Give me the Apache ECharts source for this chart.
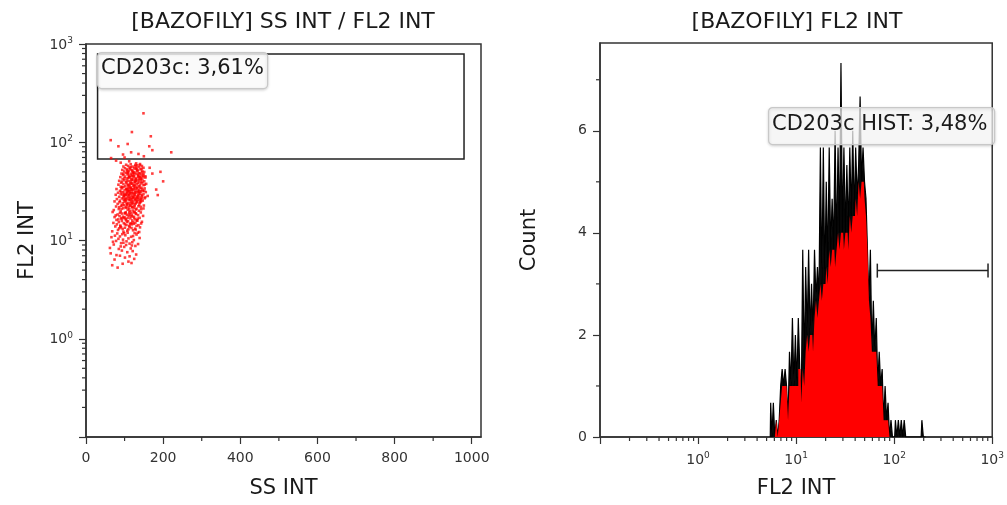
<!DOCTYPE html>
<html>
<head>
<meta charset="utf-8">
<title>BAZOFILY</title>
<script src="https://cdn.jsdelivr.net/npm/echarts@6/dist/echarts.min.js"></script>
<style>
  html, body { margin: 0; padding: 0; background: #fff; }
  #main { width: 1007px; height: 505px; }
</style>
</head>
<body>
<div id="main"></div>
<script>
// SS INT / FL2 INT events
var scatterPoints = [
  [68,5.6],[82,5.3],[95,5.8],[110,6.1],[118,5.9],[74,6.4],[101,6.7],[125,6.5],[88,7.0],[130,7.2],[64,7.4],[107,7.6],[93,7.9],[121,7.8],[79,7.1],[113,6.9],
  [62,8.4],[85,8.2],[99,8.6],[116,8.3],[128,8.8],[72,9.1],[91,9.4],[104,9.0],[120,9.6],[135,9.2],[78,9.9],[96,10.2],[110,10.5],[124,10.1],[66,10.8],[88,11.0],[102,11.3],[117,10.9],[131,11.5],[81,11.8],[94,11.6],[108,12.0],[126,11.9],[139,10.6],[70,9.7],[113,9.3],[84,10.4],[99,11.9],[119,8.9],[90,8.7],[105,9.8],[134,12.0],[75,11.2],[122,11.1],[97,9.5],
  [68,12.4],[83,12.8],[95,13.1],[107,12.6],[118,13.4],[129,12.9],[140,13.6],[76,13.9],[89,14.2],[101,14.6],[112,14.0],[124,14.8],[136,14.3],[71,15.1],[85,15.4],[98,15.0],[109,15.7],[121,15.3],[133,15.9],[145,15.5],[79,16.2],[92,16.6],[104,16.1],[115,16.8],[127,16.4],[139,17.0],[74,17.3],[87,17.7],[100,17.2],[111,17.9],[123,17.5],[135,18.1],[148,17.8],[82,18.4],[94,18.8],[106,18.3],[118,19.0],[130,18.6],[142,19.3],[69,19.5],[90,19.8],[103,19.4],[114,19.9],[126,19.6],[138,12.2],[97,12.3],[113,13.8],[86,13.3],[120,16.0],[108,17.0],[131,14.1],[93,15.8],[116,15.0],[102,18.9],[125,17.1],[80,14.6],[110,13.0],[99,16.9],[134,16.7],[88,19.1],[119,18.0],[105,14.4],[128,15.2],[96,17.5],[143,14.9],[77,18.0],[112,19.3],[91,13.6],[122,12.7],[84,16.4],
  [72,20.4],[85,20.9],[97,21.3],[108,20.6],[119,21.7],[131,21.1],[143,20.8],[78,22.2],[91,22.6],[103,22.0],[114,22.9],[126,22.4],[138,23.1],[150,22.7],[82,23.6],[95,24.0],[106,23.4],[117,24.3],[129,23.8],[141,24.6],[74,25.0],[88,25.4],[100,24.8],[111,25.7],[123,25.2],[135,26.0],[147,25.5],[80,26.4],[93,26.8],[104,26.2],[115,27.1],[127,26.6],[139,27.4],[152,26.9],[86,27.8],[98,28.2],[109,27.6],[120,28.5],[132,28.0],[144,28.8],[77,29.2],[90,29.6],[102,29.0],[113,29.9],[125,29.4],[137,30.2],[149,29.7],[83,30.6],[96,31.0],[107,30.4],[118,31.3],[130,30.8],[142,31.6],[155,31.1],[88,32.0],[100,32.4],[111,31.8],[122,32.7],[134,32.2],[146,33.0],[79,33.4],[92,33.8],[105,33.2],[116,34.1],[128,33.6],[140,34.4],[152,33.9],[94,34.8],[121,20.2],[110,21.9],[99,23.0],[133,24.9],[115,25.9],[124,27.9],[108,28.9],[136,29.1],[119,30.1],[101,26.0],[128,31.9],[112,33.0],[95,29.4],[140,25.8],[104,21.5],[126,23.3],[117,32.9],[131,27.2],[106,30.9],[122,24.1],[114,28.1],[138,32.5],[97,27.3],[129,20.7],[109,34.5],[120,22.1],[103,25.3],[135,28.6],[111,23.9],[124,34.0],[92,21.0],[145,27.0],[118,26.3],[100,30.0],[127,29.0],[113,31.5],[87,24.5],[142,22.0],[107,32.8],[133,34.6],[121,26.9],[160,28.4],
  [90,35.3],[102,35.8],[113,35.1],[125,36.2],[137,35.6],[149,36.6],[84,37.0],[97,37.5],[109,36.9],[120,37.9],[132,37.3],[144,38.2],[156,37.7],[91,38.7],[104,39.2],[115,38.5],[127,39.6],[139,39.0],[151,40.0],[86,40.5],[99,41.0],[111,40.3],[122,41.4],[134,40.8],[146,41.8],[95,42.3],[107,42.8],[118,42.1],[130,43.3],[142,42.6],[154,43.7],[89,44.2],[101,44.8],[113,44.0],[124,45.3],[136,44.6],[148,45.8],[96,46.3],[108,46.9],[120,46.1],[131,47.5],[143,46.8],[92,48.0],[104,48.6],[116,47.8],[127,49.2],[139,48.5],[151,49.8],[99,50.4],[111,51.0],[122,50.2],[134,51.7],[146,50.9],[94,52.3],[106,53.0],[118,52.2],[129,53.7],[141,52.9],[101,54.4],[113,55.1],[125,54.2],[137,55.9],[149,55.0],[97,56.6],[109,57.4],[121,56.5],[133,58.2],[145,57.3],[104,59.0],[116,59.8],[128,58.8],[140,60.0],[118,38.0],[128,41.1],[110,43.5],[135,46.3],[123,49.0],[114,53.5],[139,44.1],[126,36.8],
  [103,16.5],[117,17.6],[129,18.9],[112,20.9],[124,21.6],[136,22.3],[107,23.1],[119,23.6],[131,24.4],[143,25.1],[98,25.9],[110,26.7],[122,27.5],[134,27.1],[146,28.3],[103,29.3],[115,30.3],[127,30.6],[139,31.4],[151,32.1],[108,32.0],[120,33.2],[132,33.9],[144,34.3],[97,35.0],[110,36.3],[122,36.0],[134,38.6],[146,39.4],[106,40.7],[118,41.7],[130,42.0],[142,43.9],[154,45.0],[113,45.6],[125,47.0],[137,48.1],[149,47.2],[108,49.6],[120,51.4],[132,52.6],[144,53.8],[116,56.0],[128,57.0],[140,58.5],[101,19.0],[113,18.5],[125,19.3],[137,20.1],[149,21.2],[94,22.8],[106,24.1],[118,25.0],[130,25.6],[142,26.5],[154,27.6],[99,28.6],[111,29.2],[123,30.5],[135,31.1],[147,31.9],[104,33.6],[116,34.6],[128,35.2],[140,36.4],[152,37.0],[93,39.8],[105,38.1],[117,39.9],[129,40.4],[141,41.0],[100,43.0],[112,44.6],[124,43.8],[136,45.1],[148,44.3],[97,47.6],[109,48.3],[121,48.8],[133,50.6],[145,49.3],[89,13.9],[101,13.5],[114,14.7],[127,13.2],[92,16.9],[106,15.5],[119,14.6],[132,16.1],[86,21.8],[115,22.6],[139,24.2],[128,26.1],[103,27.0],[91,31.3],[141,30.0],[113,37.0],[126,39.0],[138,42.0],[119,45.0],[107,51.5],[131,55.0],
  [193,50],[200,40],[186,29],[182,33],[172,48],[165,55],
  [90,62],[112,64],[130,61],[78,65],
  [149,197],[119,127],[64,105],[168,115],[221,79],[84,91],[108,96],[164,91],[172,83],[96,75],[65,69],[117,79],[136,76],[150,72],[100,70]
];
var scatterGate = [30, 980, 67.4, 790];   // SS from, SS to, FL2 from, FL2 to

// FL2 INT histogram channels, counts (black outline) and the solid red fill level
var histChannels = [5.45, 5.56, 5.76, 5.96, 6.17, 6.38, 6.61, 6.84, 7.08, 7.33, 7.59, 7.85, 8.13, 8.41, 8.71, 9.01, 9.33, 9.66,
  10.0, 10.35, 10.71, 11.09, 11.48, 11.89, 12.30, 12.74, 13.18, 13.65, 14.13, 14.62, 15.14, 15.67, 16.22, 16.79, 17.38, 17.99,
  18.62, 19.28, 19.95, 20.65, 21.38, 22.13, 22.91, 23.71, 24.55, 25.41, 26.30, 27.23, 28.18, 29.17, 30.20, 31.26, 32.36, 33.50,
  34.67, 35.89, 37.15, 38.46, 39.81, 41.21, 42.66, 44.16, 45.71, 47.32, 48.98, 50.70, 52.48, 54.33, 56.23, 58.21, 60.26, 62.37,
  64.57, 66.83, 69.18, 71.61, 74.13, 76.74, 79.43, 82.22, 85.11, 88.10, 91.20, 94.41, 97.72, 101.2, 104.7, 108.4, 112.2, 116.1,
  120.2, 124.5, 128.8, 133.4, 138.0, 142.9, 147.9, 153.1, 158.5, 164.1, 169.8, 175.8, 182.0, 188.4, 195.0, 201.8, 208.9];
var histCounts = [0,
  0.67, 0, 0.67, 0, 0.33, 0, 0.33, 1, 1.33, 1,
  1.33, 1, 0.33, 1.67, 1, 2.33, 1, 2, 1, 2.33,
  1.33, 0.67, 3.67, 1.33, 3.33, 2, 3.67, 2, 3, 2,
  3.67, 2.67, 3.33, 2.67, 5.67, 3, 5.67, 3, 5, 3.33,
  5.67, 3.67, 4.67, 3.67, 6, 3.67, 5.67, 4, 7.33, 4,
  5.67, 4, 5.33, 4, 5.67, 4.33, 6, 4.33, 5.67, 4.67,
  5.33, 6.67, 5, 5.67, 5, 4.67, 3.67, 2.67, 3.67, 1.67,
  2.67, 1.67, 2.33, 1, 1.67, 1, 1.33, 0.33, 1, 0.33,
  0.67, 0, 0.33, 0, 0, 0.33, 0, 0.33, 0, 0.33,
  0, 0.33, 0, 0, 0, 0, 0, 0, 0, 0,
  0, 0, 0, 0.33, 0, 0];
var histFill = [0,
  0, 0, 0, 0, 0.33, 0, 0.33, 0.67, 1, 1,
  1, 1, 0.33, 1, 1, 1, 1, 1, 1, 1.33,
  1.33, 0.67, 1.33, 1, 1.67, 2, 1.67, 2, 2, 1.67,
  2.33, 2.67, 2.33, 2.67, 3, 2.67, 3, 3, 3.33, 3,
  3.67, 3.33, 3.67, 3.67, 3.33, 3.67, 4, 3.67, 4, 4,
  3.67, 4, 4, 3.67, 4.33, 4, 4.33, 4.33, 4.67, 4.33,
  5, 4.67, 5, 5, 4.67, 4.33, 3.67, 2.67, 2.33, 1.67,
  1.67, 1.67, 1.67, 1, 1, 1, 1, 0.33, 0.33, 0.33,
  0.33, 0, 0, 0, 0, 0, 0, 0, 0, 0,
  0, 0, 0, 0, 0, 0, 0, 0, 0, 0,
  0, 0, 0, 0, 0, 0];
var histGate = [67.3, 906, 3.26];          // FL2 from, FL2 to, drawn at count

// axis ticks
var ssTicks = [0, 200, 400, 600, 800, 1000];
var ssMinorTicks = [100, 300, 500, 700, 900];
var logMinorTicks = [0.2, 0.3, 0.4, 0.5, 0.6, 0.7, 0.8, 0.9, 2, 3, 4, 5, 6, 7, 8, 9,
  20, 30, 40, 50, 60, 70, 80, 90, 200, 300, 400, 500, 600, 700, 800, 900];
var countTicks = [0, 2, 4, 6];
var countMinorTicks = [1, 3, 5, 7];

var FONT = "'DejaVu Sans', sans-serif";
var INK = '#1a1a1a';
var AXIS = '#333';

var histData = histChannels.map(function (x, i) { return [x, histCounts[i]]; });
var fillData = histChannels.map(function (x, i) { return [x, histFill[i]]; });

function logLabel(v) {
  var e = Math.round(Math.log(v) / Math.LN10);
  return e < 0 ? '' : '{b|10}{s|' + e + '}';
}
var logRich = {
  b: { fontSize: 14, fontFamily: FONT, color: AXIS, verticalAlign: 'bottom' },
  s: { fontSize: 9, fontFamily: FONT, color: AXIS, verticalAlign: 'bottom', padding: [0, 0, 7, 0] }
};

// short minor tick marks drawn at axis positions
function minorTicks(xi, yi, pairs, dx, dy) {
  return {
    type: 'custom', xAxisIndex: xi, yAxisIndex: yi, clip: false, silent: true,
    data: pairs,
    renderItem: function (params, api) {
      var p = api.coord([api.value(0), api.value(1)]);
      return { type: 'line', shape: { x1: p[0], y1: p[1], x2: p[0] + dx, y2: p[1] + dy },
        style: { stroke: AXIS, lineWidth: 1.2 } };
    }
  };
}

var nameStyle = { fontSize: 21, fontFamily: FONT, color: INK };
var tickStyle = { fontSize: 14, fontFamily: FONT, color: AXIS };

var myChart = echarts.init(document.getElementById('main'));
var option = {
  animation: false,
  title: [
    { text: '[BAZOFILY] SS INT / FL2 INT', left: 283, top: 11, textAlign: 'center', padding: 0,
      textStyle: { fontSize: 22, fontWeight: 'normal', fontFamily: FONT, color: INK } },
    { text: '[BAZOFILY] FL2 INT', left: 797, top: 11, textAlign: 'center', padding: 0,
      textStyle: { fontSize: 22, fontWeight: 'normal', fontFamily: FONT, color: INK } }
  ],
  grid: [
    { left: 86, top: 44, width: 395, height: 393, show: true, borderColor: AXIS, borderWidth: 1.5 },
    { left: 600, top: 43, width: 394, height: 394, show: true, borderColor: AXIS, borderWidth: 1.5 }
  ],
  xAxis: [
    { gridIndex: 0, type: 'value', min: 0, max: 1024, interval: 200,
      name: 'SS INT', nameLocation: 'middle', nameGap: 41, nameTextStyle: nameStyle,
      axisLine: { lineStyle: { color: AXIS, width: 1.5 } },
      axisTick: { length: 7, lineStyle: { color: AXIS, width: 1.2 }, customValues: ssTicks },
      axisLabel: Object.assign({ margin: 14, customValues: ssTicks,
        formatter: function (v) { return String(v); } }, tickStyle),
      splitLine: { show: false } },
    { gridIndex: 1, type: 'log', logBase: 10, min: 0.1, max: 1000,
      name: 'FL2 INT', nameLocation: 'middle', nameGap: 41, nameTextStyle: nameStyle,
      axisLine: { lineStyle: { color: AXIS, width: 1.5 } },
      axisTick: { length: 7, lineStyle: { color: AXIS, width: 1.2 } },
      axisLabel: { margin: 14, formatter: logLabel, rich: logRich },
      splitLine: { show: false } }
  ],
  yAxis: [
    { gridIndex: 0, type: 'log', logBase: 10, min: 0.1, max: 1000,
      name: 'FL2 INT', nameLocation: 'middle', nameGap: 48, nameTextStyle: nameStyle,
      axisLine: { lineStyle: { color: AXIS, width: 1.5 } },
      axisTick: { length: 7, lineStyle: { color: AXIS, width: 1.2 } },
      axisLabel: { margin: 13, formatter: logLabel, rich: logRich },
      splitLine: { show: false } },
    { gridIndex: 1, type: 'value', min: 0, max: 7.72, interval: 2,
      name: 'Count', nameLocation: 'middle', nameGap: 60, nameTextStyle: nameStyle,
      axisLine: { lineStyle: { color: AXIS, width: 1.5 } },
      axisTick: { length: 7, lineStyle: { color: AXIS, width: 1.2 }, customValues: countTicks },
      axisLabel: Object.assign({ margin: 13, customValues: countTicks }, tickStyle),
      splitLine: { show: false } }
  ],
  graphic: [
    { type: 'rect', left: 97, top: 52, z: 100,
      shape: { width: 170, height: 36, r: 4 },
      style: { fill: 'rgba(255,255,255,0.85)', stroke: '#c8c8c8', lineWidth: 1.2,
        shadowBlur: 3, shadowColor: 'rgba(0,0,0,0.18)', shadowOffsetY: 1 } },
    { type: 'text', left: 101, top: 58, z: 101,
      style: { text: 'CD203c: 3,61%', fontSize: 21, fontFamily: FONT, fill: INK } },
    { type: 'rect', left: 768, top: 107, z: 100,
      shape: { width: 226, height: 37, r: 4 },
      style: { fill: 'rgba(255,255,255,0.72)', stroke: '#c8c8c8', lineWidth: 1.2,
        shadowBlur: 3, shadowColor: 'rgba(0,0,0,0.18)', shadowOffsetY: 1 } },
    { type: 'text', left: 772, top: 114, z: 101,
      style: { text: 'CD203c HIST: 3,48%', fontSize: 21, fontFamily: FONT, fill: INK } }
  ],
  series: [
    { type: 'scatter', xAxisIndex: 0, yAxisIndex: 0, data: scatterPoints,
      symbol: 'rect', symbolSize: 2.6, itemStyle: { color: '#ff0000', opacity: 0.75 } },
    { type: 'custom', xAxisIndex: 0, yAxisIndex: 0, silent: true,
      data: [scatterGate], encode: { x: [0, 1], y: [2, 3] },
      renderItem: function (params, api) {
        var a = api.coord([api.value(0), api.value(3)]);
        var b = api.coord([api.value(1), api.value(2)]);
        return { type: 'rect', shape: { x: a[0], y: a[1], width: b[0] - a[0], height: b[1] - a[1] },
          style: { fill: 'none', stroke: '#222', lineWidth: 1.5 } };
      } },
    { type: 'line', xAxisIndex: 1, yAxisIndex: 1, data: histData, step: 'middle', z: 2,
      symbol: 'none', lineStyle: { color: '#000', width: 1.2 },
      areaStyle: { color: '#0a0a0a', opacity: 1 } },
    { type: 'line', xAxisIndex: 1, yAxisIndex: 1, data: fillData, step: 'middle', z: 3,
      symbol: 'none', lineStyle: { width: 0, opacity: 0 },
      areaStyle: { color: '#ff0000', opacity: 1 } },
    { type: 'custom', xAxisIndex: 1, yAxisIndex: 1, silent: true, z: 4,
      data: [histGate], encode: { x: [0, 1], y: 2 },
      renderItem: function (params, api) {
        var a = api.coord([api.value(0), api.value(2)]);
        var b = api.coord([api.value(1), api.value(2)]);
        var st = { stroke: '#222', lineWidth: 1.5 };
        return { type: 'group', children: [
          { type: 'line', shape: { x1: a[0], y1: a[1], x2: b[0], y2: b[1] }, style: st },
          { type: 'line', shape: { x1: a[0], y1: a[1] - 7, x2: a[0], y2: a[1] + 7 }, style: st },
          { type: 'line', shape: { x1: b[0], y1: b[1] - 7, x2: b[0], y2: b[1] + 7 }, style: st }
        ] };
      } },
    minorTicks(0, 0, ssMinorTicks.map(function (v) { return [v, 0.1]; }), 0, 4),
    minorTicks(0, 0, logMinorTicks.map(function (v) { return [0, v]; }), -4, 0),
    minorTicks(1, 1, logMinorTicks.map(function (v) { return [v, 0]; }), 0, 4),
    minorTicks(1, 1, countMinorTicks.map(function (v) { return [0.1, v]; }), -4, 0)
  ]
};
myChart.setOption(option);
</script>
</body>
</html>
